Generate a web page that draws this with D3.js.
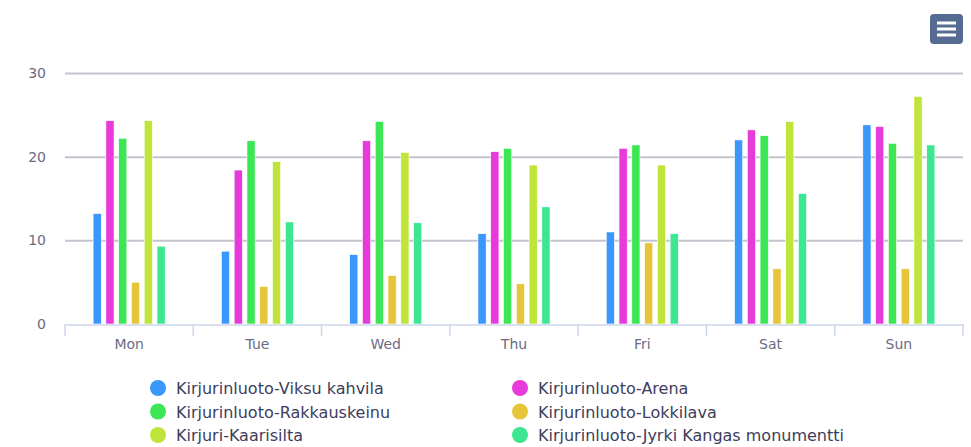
<!DOCTYPE html>
<html>
<head>
<meta charset="utf-8">
<script src="https://cdn.jsdelivr.net/npm/d3@7"></script>
<style>
  body { margin: 0; background: #fff; }
  svg { display: block; font-family: "DejaVu Sans", Verdana, sans-serif; }
</style>
</head>
<body>
<script>
// chart data
var days = ["Mon", "Tue", "Wed", "Thu", "Fri", "Sat", "Sun"];
var seriesNames = [
  "Kirjurinluoto-Viksu kahvila",
  "Kirjurinluoto-Arena",
  "Kirjurinluoto-Rakkauskeinu",
  "Kirjurinluoto-Lokkilava",
  "Kirjuri-Kaarisilta",
  "Kirjurinluoto-Jyrki Kangas monumentti"
];
var seriesColors = ["#3a97fb", "#e63adb", "#3ce655", "#e6c53b", "#c0e53a", "#3de690"];
var viksu    = [13.2, 8.7, 8.3, 10.8, 11.0, 22.0, 23.8];
var arena    = [24.3, 18.4, 21.9, 20.6, 21.0, 23.2, 23.6];
var rakkaus  = [22.2, 21.9, 24.2, 21.0, 21.4, 22.5, 21.6];
var lokki    = [5.0, 4.5, 5.8, 4.8, 9.7, 6.6, 6.6];
var kaari    = [24.3, 19.4, 20.5, 19.0, 19.0, 24.2, 27.2];
var jyrki    = [9.3, 12.2, 12.1, 14.0, 10.8, 15.6, 21.4];
var yTicks   = [0, 10, 20, 30];

var allSeries = [viksu, arena, rakkaus, lokki, kaari, jyrki];

var width = 971, height = 447;
var margin = {left: 65, right: 8, top: 73, bottom: 123};

var svg = d3.select("body").append("svg")
    .attr("width", width)
    .attr("height", height);

var x = d3.scaleBand()
    .domain(days)
    .range([margin.left, width - margin.right]);

var xInner = d3.scaleBand()
    .domain(d3.range(seriesNames.length))
    .range([0, x.bandwidth()])
    .paddingOuter(2.2)
    .paddingInner(0.36);

var y = d3.scaleLinear()
    .domain([0, 30])
    .range([height - margin.bottom, margin.top]);

// grid lines
svg.append("g")
    .selectAll("line")
    .data(yTicks)
    .enter().append("line")
      .attr("x1", margin.left)
      .attr("x2", width - margin.right)
      .attr("y1", function(d) { return y(d) + 0.5; })
      .attr("y2", function(d) { return y(d) + 0.5; })
      .attr("stroke", function(d) { return d === 0 ? "none" : "#c4c4cf"; })
      .attr("stroke-width", 2);

// y labels
svg.append("g")
    .selectAll("text")
    .data(yTicks)
    .enter().append("text")
      .attr("x", 46)
      .attr("y", function(d) { return y(d) + 5; })
      .attr("text-anchor", "end")
      .attr("font-size", 14)
      .attr("fill", "#6b6b85")
      .text(function(d) { return d; });

// bars
var groups = svg.append("g")
    .selectAll("g")
    .data(allSeries)
    .enter().append("g")
      .attr("fill", function(d, i) { return seriesColors[i]; });

groups.selectAll("rect")
    .data(function(d, i) { return d.map(function(v, j) { return {v: v, day: days[j], s: i}; }); })
    .enter().append("rect")
      .attr("x", function(d) { return x(d.day) + xInner(d.s); })
      .attr("width", xInner.bandwidth())
      .attr("y", function(d) { return y(d.v); })
      .attr("height", function(d) { return y(0) - y(d.v); })
      .attr("stroke", "#fff")
      .attr("stroke-width", 0.6);

// x axis
var xAxis = d3.axisBottom(x).tickSize(0).tickPadding(15);
var gx = svg.append("g")
    .attr("transform", "translate(0," + (y(0) + 0.5) + ")")
    .call(xAxis);
gx.select(".domain").attr("stroke", "#ccd6eb").attr("stroke-width", 1.5);
gx.selectAll("text").attr("font-size", 14).attr("fill", "#6b6b85")
    .attr("font-family", "DejaVu Sans, Verdana, sans-serif");

svg.append("g")
    .selectAll("line")
    .data(days.map(function(d) { return x(d); }).concat([width - margin.right]))
    .enter().append("line")
      .attr("x1", function(d) { return d; })
      .attr("x2", function(d) { return d; })
      .attr("y1", y(0))
      .attr("y2", y(0) + 12)
      .attr("stroke", "#ccd6eb")
      .attr("stroke-width", 1.5);

// legend
var legend = svg.append("g")
    .selectAll("g")
    .data(seriesNames)
    .enter().append("g")
      .attr("transform", function(d, i) {
        return "translate(" + (i % 2 === 0 ? 158 : 520) + "," + (388 + Math.floor(i / 2) * 23.5) + ")";
      });

legend.append("circle")
    .attr("r", 8)
    .attr("fill", function(d, i) { return seriesColors[i]; });

legend.append("text")
    .attr("x", 18)
    .attr("y", 6)
    .attr("font-size", 16)
    .attr("fill", "#3d3d5c")
    .text(function(d) { return d; });

// menu button
var menu = svg.append("g").attr("transform", "translate(930,14)");
menu.append("rect")
    .attr("width", 33).attr("height", 30).attr("rx", 4)
    .attr("fill", "#566b91");
menu.selectAll("line")
    .data([9, 15, 21])
    .enter().append("line")
      .attr("x1", 7).attr("x2", 26)
      .attr("y1", function(d) { return d; })
      .attr("y2", function(d) { return d; })
      .attr("stroke", "#fff")
      .attr("stroke-width", 3);
</script>
</body>
</html>
